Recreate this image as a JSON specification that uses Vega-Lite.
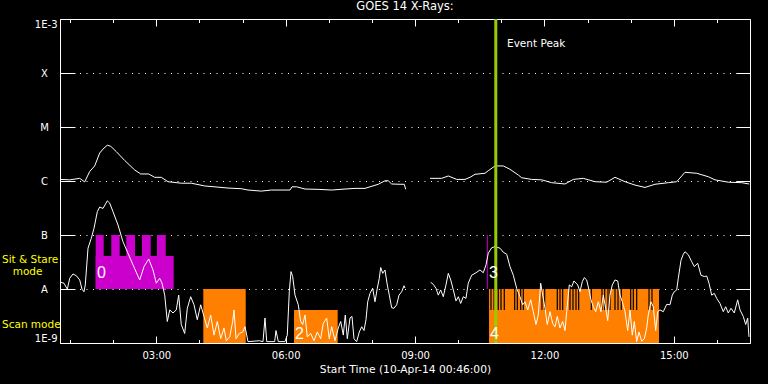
{
  "$schema": "https://vega.github.io/schema/vega-lite/v6.json",
  "width": 690,
  "height": 324,
  "autosize": {"type": "none"},
  "padding": {"left": 60, "top": 19, "right": 18, "bottom": 41},
  "background": "black",
  "title": {"text": "GOES 14 X-Rays:", "color": "white", "font": "DejaVu Sans", "fontSize": 11.5, "fontWeight": "normal", "anchor": "middle", "offset": 5},
  "config": {"view": {"stroke": "white", "strokeWidth": 1}, "font": "DejaVu Sans"},
  "resolve": {"axis": {"x": "independent", "y": "independent"}},
  "datasets": {
    "curve": [
      {"seg":"L1","t":0.783,"f":1.07e-6},{"seg":"L1","t":0.992,"f":1.05e-6},{"seg":"L1","t":1.224,"f":1.12e-6},{"seg":"L1","t":1.339,"f":9.6e-7},{"seg":"L1","t":1.455,"f":1.5e-6},{"seg":"L1","t":1.571,"f":1.9e-6},{"seg":"L1","t":1.687,"f":3.3e-6},{"seg":"L1","t":1.764,"f":3.9e-6},{"seg":"L1","t":1.864,"f":4.6e-6},{"seg":"L1","t":1.942,"f":4.4e-6},{"seg":"L1","t":2.072,"f":3.5e-6},{"seg":"L1","t":2.267,"f":2.4e-6},{"seg":"L1","t":2.499,"f":1.6e-6},{"seg":"L1","t":2.638,"f":1.35e-6},{"seg":"L1","t":2.823,"f":1.35e-6},{"seg":"L1","t":2.963,"f":1.17e-6},{"seg":"L1","t":3.116,"f":1.17e-6},{"seg":"L1","t":3.271,"f":9.7e-7},{"seg":"L1","t":3.579,"f":9.1e-7},{"seg":"L1","t":3.811,"f":9.1e-7},{"seg":"L1","t":4.122,"f":8.1e-7},{"seg":"L1","t":4.43,"f":7.7e-7},{"seg":"L1","t":4.662,"f":7.4e-7},{"seg":"L1","t":4.971,"f":7.2e-7},{"seg":"L1","t":5.126,"f":6.8e-7},{"seg":"L1","t":5.434,"f":6.5e-7},{"seg":"L1","t":5.666,"f":6.8e-7},{"seg":"L1","t":6.1,"f":6.8e-7},{"seg":"L1","t":6.146,"f":7.8e-7},{"seg":"L1","t":6.255,"f":7.8e-7},{"seg":"L1","t":6.448,"f":7.1e-7},{"seg":"L1","t":6.756,"f":7.0e-7},{"seg":"L1","t":7.067,"f":6.8e-7},{"seg":"L1","t":7.375,"f":7.1e-7},{"seg":"L1","t":7.607,"f":7.3e-7},{"seg":"L1","t":7.839,"f":7.3e-7},{"seg":"L1","t":7.955,"f":7.8e-7},{"seg":"L1","t":8.147,"f":8.7e-7},{"seg":"L1","t":8.303,"f":1.01e-6},{"seg":"L1","t":8.379,"f":1.01e-6},{"seg":"L1","t":8.458,"f":8.8e-7},{"seg":"L1","t":8.651,"f":8.7e-7},{"seg":"L1","t":8.75,"f":8.7e-7},{"seg":"L1","t":8.783,"f":7.0e-7},
      {"seg":"L2","t":9.346,"f":1.12e-6},{"seg":"L2","t":9.618,"f":1.12e-6},{"seg":"L2","t":9.771,"f":1.24e-6},{"seg":"L2","t":9.966,"f":1.07e-6},{"seg":"L2","t":10.158,"f":1.07e-6},{"seg":"L2","t":10.274,"f":1.17e-6},{"seg":"L2","t":10.39,"f":1.33e-6},{"seg":"L2","t":10.622,"f":1.39e-6},{"seg":"L2","t":10.698,"f":1.55e-6},{"seg":"L2","t":10.853,"f":1.9e-6},{"seg":"L2","t":11.046,"f":1.9e-6},{"seg":"L2","t":11.201,"f":1.65e-6},{"seg":"L2","t":11.394,"f":1.29e-6},{"seg":"L2","t":11.472,"f":1.15e-6},{"seg":"L2","t":11.704,"f":1.07e-6},{"seg":"L2","t":11.937,"f":1.05e-6},{"seg":"L2","t":12.168,"f":9.3e-7},{"seg":"L2","t":12.477,"f":8.8e-7},{"seg":"L2","t":12.67,"f":1.07e-6},{"seg":"L2","t":12.901,"f":1.12e-6},{"seg":"L2","t":13.173,"f":9.7e-7},{"seg":"L2","t":13.444,"f":9.5e-7},{"seg":"L2","t":13.636,"f":1.17e-6},{"seg":"L2","t":13.868,"f":9.7e-7},{"seg":"L2","t":14.1,"f":8.4e-7},{"seg":"L2","t":14.332,"f":7.6e-7},{"seg":"L2","t":14.564,"f":8.7e-7},{"seg":"L2","t":14.872,"f":9.3e-7},{"seg":"L2","t":15.067,"f":9.7e-7},{"seg":"L2","t":15.259,"f":1.45e-6},{"seg":"L2","t":15.531,"f":1.39e-6},{"seg":"L2","t":15.8,"f":1.2e-6},{"seg":"L2","t":15.955,"f":1.05e-6},{"seg":"L2","t":16.263,"f":9.5e-7},{"seg":"L2","t":16.574,"f":9.3e-7},{"seg":"L2","t":16.75,"f":8.8e-7},
      {"seg":"S1","t":0.783,"f":1.33e-8},{"seg":"S1","t":0.859,"f":1.28e-8},{"seg":"S1","t":0.936,"f":9.9e-9},{"seg":"S1","t":0.992,"f":1.58e-8},{"seg":"S1","t":1.068,"f":1.9e-8},{"seg":"S1","t":1.145,"f":1.76e-8},{"seg":"S1","t":1.224,"f":1.47e-8},{"seg":"S1","t":1.277,"f":9.9e-9},{"seg":"S1","t":1.323,"f":8.9e-9},{"seg":"S1","t":1.353,"f":1.19e-8},{"seg":"S1","t":1.416,"f":5.7e-8},{"seg":"S1","t":1.492,"f":8.7e-8},{"seg":"S1","t":1.555,"f":1.33e-7},{"seg":"S1","t":1.632,"f":2.7e-7},{"seg":"S1","t":1.687,"f":3.3e-7},{"seg":"S1","t":1.764,"f":3.1e-7},{"seg":"S1","t":1.864,"f":4.3e-7},{"seg":"S1","t":1.919,"f":3.9e-7},{"seg":"S1","t":1.996,"f":2.7e-7},{"seg":"S1","t":2.112,"f":1.53e-7},{"seg":"S1","t":2.227,"f":7.5e-8},{"seg":"S1","t":2.343,"f":4.6e-8},{"seg":"S1","t":2.459,"f":2.8e-8},{"seg":"S1","t":2.615,"f":1.47e-8},{"seg":"S1","t":2.715,"f":2.6e-8},{"seg":"S1","t":2.823,"f":3.6e-8},{"seg":"S1","t":2.923,"f":2.25e-8},{"seg":"S1","t":3.0,"f":1.28e-8},{"seg":"S1","t":3.079,"f":1.58e-8},{"seg":"S1","t":3.132,"f":1.28e-8},{"seg":"S1","t":3.195,"f":7.7e-9},{"seg":"S1","t":3.255,"f":2.5e-9},{"seg":"S1","t":3.311,"f":4.1e-9},{"seg":"S1","t":3.387,"f":3.6e-9},{"seg":"S1","t":3.463,"f":4.1e-9},{"seg":"S1","t":3.519,"f":7.7e-9},{"seg":"S1","t":3.579,"f":2.2e-9},{"seg":"S1","t":3.658,"f":1.5e-9},{"seg":"S1","t":3.719,"f":4.4e-9},{"seg":"S1","t":3.797,"f":7.2e-9},{"seg":"S1","t":3.874,"f":5.1e-9},{"seg":"S1","t":3.95,"f":2.7e-9},{"seg":"S1","t":4.029,"f":5.1e-9},{"seg":"S1","t":4.106,"f":3.1e-9},{"seg":"S1","t":4.182,"f":1.9e-9},{"seg":"S1","t":4.261,"f":3.3e-9},{"seg":"S1","t":4.338,"f":1.4e-9},{"seg":"S1","t":4.414,"f":2.5e-9},{"seg":"S1","t":4.493,"f":1.2e-9},{"seg":"S1","t":4.57,"f":1.9e-9},{"seg":"S1","t":4.623,"f":1.1e-9},{"seg":"S1","t":4.702,"f":1.3e-9},{"seg":"S1","t":4.771,"f":2.5e-9},{"seg":"S1","t":4.802,"f":4.1e-9},{"seg":"S1","t":4.848,"f":1.2e-9},{"seg":"S1","t":4.924,"f":1.5e-9},{"seg":"S1","t":5.003,"f":1.6e-9},{"seg":"S1","t":5.057,"f":2.0e-9},{"seg":"S1","t":5.126,"f":1.06e-9},{"seg":"S1","t":5.388,"f":1.1e-9},{"seg":"S1","t":5.474,"f":1.06e-9},{"seg":"S1","t":5.52,"f":2.9e-9},{"seg":"S1","t":5.56,"f":1.06e-9},{"seg":"S1","t":5.745,"f":1.06e-9},{"seg":"S1","t":5.775,"f":1.7e-9},{"seg":"S1","t":5.829,"f":1.06e-9},{"seg":"S1","t":5.984,"f":1.06e-9},{"seg":"S1","t":6.037,"f":1.4e-9},{"seg":"S1","t":6.084,"f":8.9e-9},{"seg":"S1","t":6.123,"f":2.1e-8},{"seg":"S1","t":6.162,"f":1.7e-8},{"seg":"S1","t":6.216,"f":7.7e-9},{"seg":"S1","t":6.292,"f":5.1e-9},{"seg":"S1","t":6.348,"f":2.5e-9},{"seg":"S1","t":6.394,"f":2.2e-9},{"seg":"S1","t":6.448,"f":3.3e-9},{"seg":"S1","t":6.501,"f":1.3e-9},{"seg":"S1","t":6.58,"f":1.5e-9},{"seg":"S1","t":6.656,"f":1.1e-9},{"seg":"S1","t":6.733,"f":1.6e-9},{"seg":"S1","t":6.812,"f":1.2e-9},{"seg":"S1","t":6.872,"f":2.3e-9},{"seg":"S1","t":6.95,"f":2.9e-9},{"seg":"S1","t":7.011,"f":1.2e-9},{"seg":"S1","t":7.067,"f":2.0e-9},{"seg":"S1","t":7.143,"f":1.1e-9},{"seg":"S1","t":7.22,"f":1.9e-9},{"seg":"S1","t":7.276,"f":2.5e-9},{"seg":"S1","t":7.336,"f":1.4e-9},{"seg":"S1","t":7.382,"f":3.3e-9},{"seg":"S1","t":7.429,"f":1.2e-9},{"seg":"S1","t":7.491,"f":2.9e-9},{"seg":"S1","t":7.538,"f":3.1e-9},{"seg":"S1","t":7.584,"f":1.2e-9},{"seg":"S1","t":7.646,"f":1.06e-9},{"seg":"S1","t":7.707,"f":1.6e-9},{"seg":"S1","t":7.763,"f":2.0e-9},{"seg":"S1","t":7.816,"f":1.7e-9},{"seg":"S1","t":7.862,"f":2.7e-9},{"seg":"S1","t":7.902,"f":5.8e-9},{"seg":"S1","t":7.955,"f":8.3e-9},{"seg":"S1","t":8.017,"f":1.03e-8},{"seg":"S1","t":8.071,"f":5.8e-9},{"seg":"S1","t":8.124,"f":1.03e-8},{"seg":"S1","t":8.171,"f":1.58e-8},{"seg":"S1","t":8.203,"f":2.5e-8},{"seg":"S1","t":8.25,"f":1.95e-8},{"seg":"S1","t":8.303,"f":2.25e-8},{"seg":"S1","t":8.356,"f":1.19e-8},{"seg":"S1","t":8.403,"f":7.7e-9},{"seg":"S1","t":8.458,"f":4.5e-9},{"seg":"S1","t":8.511,"f":4.4e-9},{"seg":"S1","t":8.574,"f":5.1e-9},{"seg":"S1","t":8.628,"f":7.7e-9},{"seg":"S1","t":8.69,"f":8.9e-9},{"seg":"S1","t":8.744,"f":1.15e-8},{"seg":"S1","t":8.767,"f":1.04e-8},
      {"seg":"S2","t":9.363,"f":1.33e-8},{"seg":"S2","t":9.423,"f":1.22e-8},{"seg":"S2","t":9.485,"f":1.03e-8},{"seg":"S2","t":9.539,"f":7.7e-9},{"seg":"S2","t":9.594,"f":9.6e-9},{"seg":"S2","t":9.655,"f":7.2e-9},{"seg":"S2","t":9.717,"f":1.19e-8},{"seg":"S2","t":9.771,"f":1.95e-8},{"seg":"S2","t":9.827,"f":1.47e-8},{"seg":"S2","t":9.887,"f":9.6e-9},{"seg":"S2","t":9.949,"f":6.0e-9},{"seg":"S2","t":10.003,"f":7.2e-9},{"seg":"S2","t":10.058,"f":5.4e-9},{"seg":"S2","t":10.118,"f":7.2e-9},{"seg":"S2","t":10.18,"f":6.7e-9},{"seg":"S2","t":10.234,"f":1.28e-8},{"seg":"S2","t":10.313,"f":1.8e-8},{"seg":"S2","t":10.413,"f":2.0e-8},{"seg":"S2","t":10.505,"f":2.25e-8},{"seg":"S2","t":10.582,"f":2.0e-8},{"seg":"S2","t":10.645,"f":2.8e-8},{"seg":"S2","t":10.698,"f":4.6e-8},{"seg":"S2","t":10.777,"f":5.8e-8},{"seg":"S2","t":10.853,"f":6.1e-8},{"seg":"S2","t":10.969,"f":5.7e-8},{"seg":"S2","t":11.046,"f":4.8e-8},{"seg":"S2","t":11.125,"f":4.4e-8},{"seg":"S2","t":11.201,"f":2.6e-8},{"seg":"S2","t":11.278,"f":1.8e-8},{"seg":"S2","t":11.356,"f":1.03e-8},{"seg":"S2","t":11.433,"f":7.2e-9},{"seg":"S2","t":11.496,"f":5.1e-9},{"seg":"S2","t":11.549,"f":5.8e-9},{"seg":"S2","t":11.612,"f":4.1e-9},{"seg":"S2","t":11.681,"f":6.3e-9},{"seg":"S2","t":11.742,"f":3.8e-9},{"seg":"S2","t":11.804,"f":2.2e-9},{"seg":"S2","t":11.858,"f":3.3e-9},{"seg":"S2","t":11.913,"f":1.28e-8},{"seg":"S2","t":11.96,"f":7.7e-9},{"seg":"S2","t":12.013,"f":4.4e-9},{"seg":"S2","t":12.066,"f":2.2e-9},{"seg":"S2","t":12.129,"f":3.8e-9},{"seg":"S2","t":12.191,"f":2.3e-9},{"seg":"S2","t":12.245,"f":2.0e-9},{"seg":"S2","t":12.298,"f":3.1e-9},{"seg":"S2","t":12.36,"f":1.9e-9},{"seg":"S2","t":12.423,"f":2.5e-9},{"seg":"S2","t":12.477,"f":1.7e-9},{"seg":"S2","t":12.516,"f":3.8e-9},{"seg":"S2","t":12.576,"f":1.19e-8},{"seg":"S2","t":12.632,"f":1.1e-8},{"seg":"S2","t":12.685,"f":1.41e-8},{"seg":"S2","t":12.771,"f":1.19e-8},{"seg":"S2","t":12.825,"f":8.9e-9},{"seg":"S2","t":12.878,"f":1.37e-8},{"seg":"S2","t":12.924,"f":1.62e-8},{"seg":"S2","t":12.98,"f":1.47e-8},{"seg":"S2","t":13.033,"f":9.6e-9},{"seg":"S2","t":13.08,"f":6.3e-9},{"seg":"S2","t":13.133,"f":4.7e-9},{"seg":"S2","t":13.189,"f":3.8e-9},{"seg":"S2","t":13.249,"f":5.8e-9},{"seg":"S2","t":13.311,"f":3.8e-9},{"seg":"S2","t":13.365,"f":7.7e-9},{"seg":"S2","t":13.42,"f":4.4e-9},{"seg":"S2","t":13.467,"f":2.6e-9},{"seg":"S2","t":13.52,"f":7.7e-9},{"seg":"S2","t":13.574,"f":1.19e-8},{"seg":"S2","t":13.636,"f":1.47e-8},{"seg":"S2","t":13.699,"f":1.41e-8},{"seg":"S2","t":13.752,"f":7.7e-9},{"seg":"S2","t":13.806,"f":5.8e-9},{"seg":"S2","t":13.868,"f":3.8e-9},{"seg":"S2","t":13.931,"f":1.7e-9},{"seg":"S2","t":13.984,"f":4.1e-9},{"seg":"S2","t":14.037,"f":1.4e-9},{"seg":"S2","t":14.084,"f":2.5e-9},{"seg":"S2","t":14.139,"f":1.06e-9},{"seg":"S2","t":14.193,"f":1.6e-9},{"seg":"S2","t":14.255,"f":1.08e-9},{"seg":"S2","t":14.316,"f":1.2e-9},{"seg":"S2","t":14.371,"f":1.9e-9},{"seg":"S2","t":14.408,"f":3.3e-9},{"seg":"S2","t":14.47,"f":5.8e-9},{"seg":"S2","t":14.524,"f":4.7e-9},{"seg":"S2","t":14.58,"f":1.7e-9},{"seg":"S2","t":14.626,"f":3.8e-9},{"seg":"S2","t":14.679,"f":4.1e-9},{"seg":"S2","t":14.756,"f":3.8e-9},{"seg":"S2","t":14.835,"f":5.2e-9},{"seg":"S2","t":14.911,"f":5.1e-9},{"seg":"S2","t":14.965,"f":7.7e-9},{"seg":"S2","t":15.011,"f":8.9e-9},{"seg":"S2","t":15.067,"f":9.6e-9},{"seg":"S2","t":15.104,"f":1.58e-8},{"seg":"S2","t":15.167,"f":3.4e-8},{"seg":"S2","t":15.22,"f":4.4e-8},{"seg":"S2","t":15.259,"f":4.9e-8},{"seg":"S2","t":15.336,"f":4.3e-8},{"seg":"S2","t":15.415,"f":3.2e-8},{"seg":"S2","t":15.475,"f":2.6e-8},{"seg":"S2","t":15.554,"f":3.0e-8},{"seg":"S2","t":15.63,"f":1.8e-8},{"seg":"S2","t":15.707,"f":1.7e-8},{"seg":"S2","t":15.763,"f":1.74e-8},{"seg":"S2","t":15.816,"f":1.28e-8},{"seg":"S2","t":15.878,"f":7.7e-9},{"seg":"S2","t":15.939,"f":8.3e-9},{"seg":"S2","t":15.994,"f":6.7e-9},{"seg":"S2","t":16.071,"f":5.4e-9},{"seg":"S2","t":16.147,"f":3.8e-9},{"seg":"S2","t":16.203,"f":4.7e-9},{"seg":"S2","t":16.263,"f":3.6e-9},{"seg":"S2","t":16.326,"f":4.4e-9},{"seg":"S2","t":16.402,"f":3.6e-9},{"seg":"S2","t":16.481,"f":6.3e-9},{"seg":"S2","t":16.535,"f":4.1e-9},{"seg":"S2","t":16.611,"f":3.1e-9},{"seg":"S2","t":16.667,"f":2.2e-9},{"seg":"S2","t":16.713,"f":2.9e-9},{"seg":"S2","t":16.743,"f":1.3e-9}
    ],
    "blocks": [
      {"mode":"sit","t0":1.594,"t1":3.403,"lo":1e-8,"hi":4.1e-8},
      {"mode":"sit","t0":1.594,"t1":1.78,"lo":1e-8,"hi":1e-7},
      {"mode":"sit","t0":1.956,"t1":2.151,"lo":1e-8,"hi":1e-7},
      {"mode":"sit","t0":2.304,"t1":2.506,"lo":1e-8,"hi":1e-7},
      {"mode":"sit","t0":2.668,"t1":2.87,"lo":1e-8,"hi":1e-7},
      {"mode":"sit","t0":3.016,"t1":3.218,"lo":1e-8,"hi":1e-7},
      {"mode":"scan","t0":4.09,"t1":5.073,"lo":1e-9,"hi":1e-8},
      {"mode":"scan","t0":6.193,"t1":7.206,"lo":1e-9,"hi":4.1e-9},
      {"mode":"scan","t0":10.715,"t1":14.657,"lo":1e-9,"hi":1e-8}
    ],
    "gaps": [
      {"t":10.761},{"t":10.831},{"t":10.893},{"t":10.93},{"t":10.993},{"t":11.069},{"t":11.31},{"t":11.371},{"t":11.449},{"t":11.51},{"t":11.943},{"t":12.006},{"t":12.298},{"t":12.361},{"t":12.423},{"t":12.593},{"t":12.662},{"t":12.732},{"t":12.794},{"t":13.087},{"t":13.335},{"t":13.397},{"t":13.474},{"t":13.52},{"t":13.636},{"t":13.706},{"t":13.782},{"t":14.0},{"t":14.061},{"t":14.139},{"t":14.425},{"t":14.494}
    ],
    "sit3": [{"t":10.675,"lo":1e-8,"hi":1e-7}],
    "peak": [{"t":10.872}],
    "peaklabel": [{"label":"Event Peak","t":11.132,"f":3.03e-4}],
    "nums": [
      {"label":"0","t":1.625,"f":1.6e-8},
      {"label":"3","t":10.715,"f":1.6e-8},
      {"label":"2","t":6.216,"f":1.19e-9},
      {"label":"4","t":10.738,"f":1.19e-9}
    ],
    "modes": [
      {"label":"Sit & Stare","t":-0.578,"f":3.07e-8},
      {"label":"mode","t":-0.33,"f":1.78e-8},
      {"label":"Scan mode","t":-0.578,"f":1.92e-9}
    ]
  },
  "layer": [
    {
      "data": {"name": "blocks"},
      "mark": {"type": "rect"},
      "encoding": {
        "x": {"field": "t0", "type": "quantitative", "axis": null},
        "x2": {"field": "t1"},
        "y": {"field": "lo", "type": "quantitative", "axis": null},
        "y2": {"field": "hi"},
        "color": {"field": "mode", "type": "nominal", "scale": {"domain": ["sit", "scan"], "range": ["#cc00cc", "#ff8000"]}, "legend": null}
      }
    },
    {
      "data": {"name": "gaps"},
      "mark": {"type": "rule", "color": "black", "strokeWidth": 1.2},
      "encoding": {
        "x": {"field": "t", "type": "quantitative", "axis": null},
        "y": {"datum": 1e-8, "axis": null},
        "y2": {"datum": 4.1e-9}
      }
    },
    {
      "data": {"name": "sit3"},
      "mark": {"type": "rule", "color": "#cc00cc", "strokeWidth": 1},
      "encoding": {
        "x": {"field": "t", "type": "quantitative", "axis": null},
        "y": {"field": "lo", "type": "quantitative", "axis": null},
        "y2": {"field": "hi"}
      }
    },
    {
      "data": {"name": "curve"},
      "mark": {"type": "line", "color": "white", "strokeWidth": 1},
      "encoding": {
        "x": {
          "field": "t", "type": "quantitative",
          "scale": {"domain": [0.7667, 16.7667], "nice": false, "zero": false},
          "axis": {
            "orient": "bottom", "values": [1,2,3,4,5,6,7,8,9,10,11,12,13,14,15,16],
            "domain": false, "grid": false,
            "labelExpr": "datum.value % 3 == 0 ? (datum.value < 10 ? '0' : '') + datum.value + ':00' : ''",
            "tickColor": "white", "tickWidth": 1,
            "tickSize": {"condition": {"test": "datum.value % 3 == 0", "value": -7}, "value": -3.5},
            "labelPadding": 14.5, "labelColor": "white", "labelFont": "DejaVu Sans", "labelFontSize": 10,
            "labelFlush": false, "labelOverlap": false,
            "title": "Start Time (10-Apr-14 00:46:00)", "titleColor": "white", "titleFont": "DejaVu Sans",
            "titleFontSize": 10.7, "titleFontWeight": "normal", "titleY": 29, "titleBaseline": "alphabetic"
          }
        },
        "y": {
          "field": "f", "type": "quantitative",
          "scale": {"type": "log", "domain": [1e-9, 1e-3], "nice": false},
          "axis": {
            "orient": "left", "values": [1e-9, 1e-8, 1e-7, 1e-6, 1e-5, 1e-4, 1e-3],
            "labelExpr": "datum.value > 5e-4 ? '1E-3' : datum.value > 5e-5 ? 'X' : datum.value > 5e-6 ? 'M' : datum.value > 5e-7 ? 'C' : datum.value > 5e-8 ? 'B' : datum.value > 5e-9 ? 'A' : '1E-9'",
            "grid": true, "gridColor": "white", "gridDash": [1, 5.5], "gridWidth": 1, "gridOpacity": 1,
            "domain": false, "tickColor": "white", "tickSize": -15, "tickWidth": 1,
            "labelColor": "white", "labelFont": "DejaVu Sans", "labelFontSize": 10,
            "labelAlign": {"condition": {"test": "datum.value > 5e-4 || datum.value < 5e-9", "value": "right"}, "value": "center"},
            "labelPadding": {"condition": {"test": "datum.value > 5e-4 || datum.value < 5e-9", "value": 18}, "value": 31},
            "labelFlush": true, "labelOverlap": false, "title": null
          }
        },
        "detail": {"field": "seg", "type": "nominal"}
      }
    },
    {
      "data": {"name": "curve"},
      "mark": {"type": "point", "opacity": 0},
      "encoding": {
        "x": {
          "field": "t", "type": "quantitative",
          "scale": {"domain": [0.7667, 16.7667], "nice": false, "zero": false},
          "axis": {
            "orient": "top", "values": [1,2,3,4,5,6,7,8,9,10,11,12,13,14,15,16],
            "domain": false, "grid": false, "labels": false,
            "tickColor": "white", "tickWidth": 1,
            "tickSize": {"condition": {"test": "datum.value % 3 == 0", "value": -7}, "value": -3.5},
            "title": null
          }
        },
        "y": {
          "field": "f", "type": "quantitative",
          "scale": {"type": "log", "domain": [1e-9, 1e-3], "nice": false},
          "axis": {
            "orient": "right", "values": [1e-8, 1e-7, 1e-6, 1e-5, 1e-4],
            "domain": false, "grid": false, "labels": false,
            "tickColor": "white", "tickWidth": 1, "tickSize": -14, "title": null
          }
        }
      }
    },
    {
      "data": {"name": "peak"},
      "mark": {"type": "rule", "color": "#99cc00", "strokeWidth": 3},
      "encoding": {
        "x": {"field": "t", "type": "quantitative", "axis": null}
      }
    },
    {
      "data": {"name": "peaklabel"},
      "mark": {"type": "text", "font": "DejaVu Sans", "fontSize": 10.5, "color": "white", "align": "left", "baseline": "alphabetic"},
      "encoding": {
        "x": {"field": "t", "type": "quantitative", "axis": null},
        "y": {"field": "f", "type": "quantitative", "axis": null},
        "text": {"field": "label"}
      }
    },
    {
      "data": {"name": "nums"},
      "mark": {"type": "text", "font": "Liberation Sans", "fontSize": 16, "color": "white", "align": "left", "baseline": "alphabetic"},
      "encoding": {
        "x": {"field": "t", "type": "quantitative", "axis": null},
        "y": {"field": "f", "type": "quantitative", "axis": null},
        "text": {"field": "label"}
      }
    },
    {
      "data": {"name": "modes"},
      "mark": {"type": "text", "font": "DejaVu Sans", "fontSize": 10.5, "color": "#ffff00", "align": "left", "baseline": "alphabetic"},
      "encoding": {
        "x": {"field": "t", "type": "quantitative", "axis": null},
        "y": {"field": "f", "type": "quantitative", "axis": null},
        "text": {"field": "label"}
      }
    }
  ]
}
